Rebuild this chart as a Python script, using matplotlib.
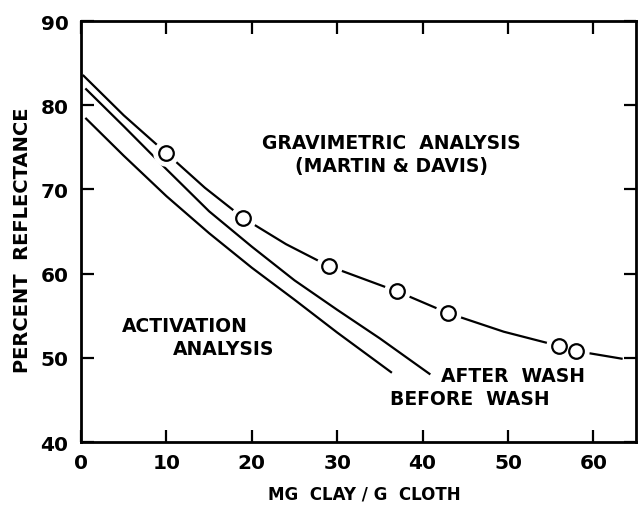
import matplotlib
matplotlib.use('Agg')
import matplotlib.pyplot as plt

# Gravimetric analysis (Martin & Davis): measured points
grav_x = [10, 19, 29, 37, 43, 56, 58]
grav_y = [74.3, 66.6, 60.9, 57.9, 55.3, 51.4, 50.8]

# Smooth curve drawn through the gravimetric points
grav_curve_x = [0.3, 5, 10, 14.5, 19, 24, 29, 37, 43, 49.5, 56, 58, 63.3]
grav_curve_y = [83.5, 78.8, 74.3, 70.2, 66.6, 63.5, 60.9, 57.9, 55.3, 53.1, 51.4, 50.8, 49.9]

# Activation analysis, after wash
after_x = [0.6, 5, 10, 15, 20, 25, 30, 35, 40.8]
after_y = [81.9, 77.5, 72.4, 67.4, 63.2, 59.2, 55.7, 52.3, 48.1]

# Activation analysis, before wash
before_x = [0.6, 5, 10, 15, 20, 25, 30, 36.3]
before_y = [78.4, 74.0, 69.2, 64.8, 60.7, 56.9, 53.0, 48.3]

x_ticks = [0, 10, 20, 30, 40, 50, 60]
y_ticks = [40, 50, 60, 70, 80, 90]

fig = plt.figure(figsize=(6.38, 5.06), dpi=100)
ax = fig.add_axes([0.127, 0.1245, 0.87, 0.832])

lw = 1.6
ax.plot(before_x, before_y, color='black', lw=lw)
ax.plot(after_x, after_y, color='black', lw=lw)
ax.plot(grav_curve_x, grav_curve_y, color='black', lw=lw)
# white halo leaves a small gap between the line and each circle
ax.plot(grav_x, grav_y, 'o', ms=19, mfc='white', mec='white', mew=0, zorder=3)
ax.plot(grav_x, grav_y, 'o', ms=10.5, mfc='white', mec='black', mew=1.6, zorder=4)

ax.set_xlim(0, 65)
ax.set_ylim(40, 90)
ax.set_xticks(x_ticks)
ax.set_yticks(y_ticks)
ax.tick_params(direction='in', length=9, width=1.6, top=True, right=True,
               labelsize=14.5)
ax.tick_params(axis='x', pad=8)
ax.tick_params(axis='y', pad=9)
for lab in ax.get_xticklabels() + ax.get_yticklabels():
    lab.set_fontweight('bold')
for spine in ax.spines.values():
    spine.set_linewidth(2)

ax.set_xlabel('MG  CLAY / G  CLOTH', fontsize=12, fontweight='bold')
ax.set_ylabel('PERCENT  REFLECTANCE', fontsize=14, fontweight='bold')
ax.xaxis.set_label_coords(0.51, -0.102)
ax.yaxis.set_label_coords(-0.088, 0.482)

txt = dict(fontsize=13.5, fontweight='bold', ha='center', va='center')
ax.text(36.3, 75.6, 'GRAVIMETRIC  ANALYSIS', **txt)
ax.text(36.3, 72.8, '(MARTIN & DAVIS)', **txt)
ax.text(12.2, 53.8, 'ACTIVATION', **txt)
ax.text(16.7, 51.1, 'ANALYSIS', **txt)
ax.text(50.6, 47.9, 'AFTER  WASH', **txt)
ax.text(45.5, 45.2, 'BEFORE  WASH', **txt)

fig.savefig('out.png', dpi=100, facecolor='white')
